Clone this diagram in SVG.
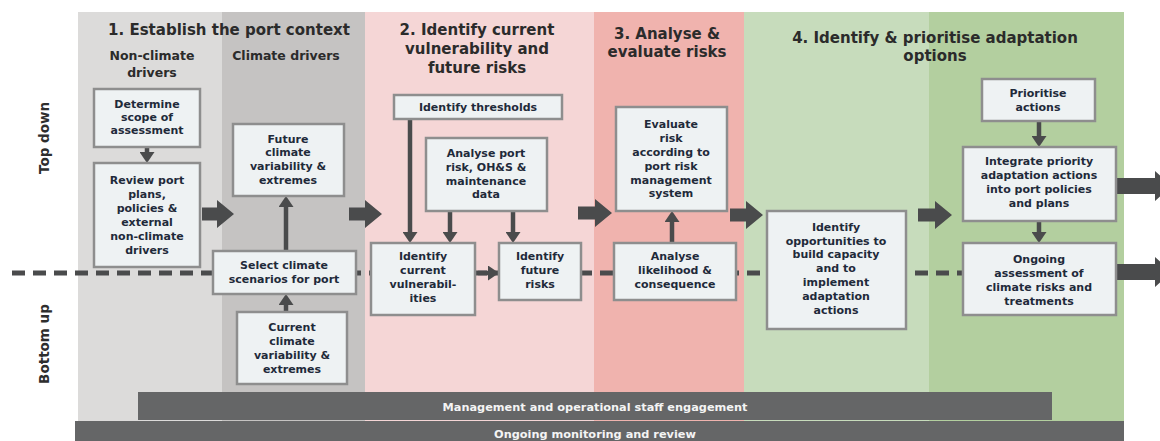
<svg xmlns="http://www.w3.org/2000/svg" width="1160" height="441" viewBox="0 0 1160 441">
<style>
.bx{fill:#eef2f3;stroke:#8e8e8e;stroke-width:2.5}
.t{font-family:"DejaVu Sans",Verdana,sans-serif;font-weight:bold;font-size:11px;fill:#1f2a3a;text-anchor:middle}
.h{font-family:"DejaVu Sans",Verdana,sans-serif;font-weight:bold;font-size:15px;fill:#2b2b2b;text-anchor:middle}
.s{font-family:"DejaVu Sans",Verdana,sans-serif;font-weight:bold;font-size:12.5px;fill:#2b2b2b;text-anchor:middle}
.side{font-family:"DejaVu Sans",Verdana,sans-serif;font-weight:bold;font-size:13.5px;fill:#2e2e2e;text-anchor:middle}
.bar{fill:#656667}
.bt{font-family:"DejaVu Sans",Verdana,sans-serif;font-weight:bold;font-size:11.3px;fill:#f4f4f4;text-anchor:middle}
.ln{stroke:#4a4b4c;stroke-width:4.5;fill:none}
.ba{fill:#4a4b4c}
</style>
<defs>
<marker id="ah" markerUnits="userSpaceOnUse" markerWidth="11" markerHeight="15" viewBox="0 0 11 15" refX="0" refY="7.5" orient="auto" preserveAspectRatio="none">
<path d="M0,0 L11,7.5 L0,15 z" fill="#4a4b4c"/>
</marker>
</defs>
<rect width="1160" height="441" fill="#ffffff"/>
<g id="backgrounds">
<rect x="78" y="12" width="144" height="429" fill="#dcdbda"/>
<rect x="222" y="12" width="143" height="429" fill="#c5c3c2"/>
<rect x="365" y="12" width="229" height="429" fill="#f5d6d6"/>
<rect x="594" y="12" width="150" height="429" fill="#f0b3ae"/>
<rect x="744" y="12" width="185" height="429" fill="#c7dcbc"/>
<rect x="929" y="12" width="195" height="429" fill="#b3cf9f"/>
</g>
<g id="headings">
<text class="h" x="229" y="35">1. Establish the port context</text>
<text class="s" x="152" y="60">Non-climate</text>
<text class="s" x="152" y="77">drivers</text>
<text class="s" x="286" y="60">Climate drivers</text>
<text class="h" x="477" y="35">2. Identify current</text>
<text class="h" x="477" y="54">vulnerability and</text>
<text class="h" x="477" y="73">future risks</text>
<text class="h" x="667" y="39">3. Analyse &amp;</text>
<text class="h" x="667" y="57">evaluate risks</text>
<text class="h" x="935" y="43">4. Identify &amp; prioritise adaptation</text>
<text class="h" x="935" y="61">options</text>
<text class="side" transform="translate(49,138) rotate(-90)">Top down</text>
<text class="side" transform="translate(49,344) rotate(-90)">Bottom up</text>
</g>
<g id="connectors">
<line x1="12" y1="273" x2="963" y2="273" stroke="#4a4b4c" stroke-width="5" stroke-dasharray="13 8"/>
<line class="ln" x1="147" y1="147" x2="147" y2="152" marker-end="url(#ah)"/>
<line class="ln" x1="286" y1="251" x2="286" y2="207" marker-end="url(#ah)"/>
<line class="ln" x1="286" y1="312" x2="286" y2="305" marker-end="url(#ah)"/>
<line class="ln" x1="410" y1="119" x2="410" y2="232" marker-end="url(#ah)"/>
<line class="ln" x1="450" y1="211" x2="450" y2="232" marker-end="url(#ah)"/>
<line class="ln" x1="513" y1="211" x2="513" y2="232" marker-end="url(#ah)"/>
<line class="ln" x1="478" y1="273" x2="488" y2="273" marker-end="url(#ah)"/>
<line class="ln" x1="672" y1="243" x2="672" y2="222" marker-end="url(#ah)"/>
<line class="ln" x1="1039" y1="121" x2="1039" y2="136" marker-end="url(#ah)"/>
<line class="ln" x1="1039" y1="221" x2="1039" y2="232" marker-end="url(#ah)"/>
<polygon class="ba" points="202,207.5 217,207.5 217,200 234,214 217,228 217,220.5 202,220.5"/>
<polygon class="ba" points="349,207.5 365,207.5 365,200 382,214 365,228 365,220.5 349,220.5"/>
<polygon class="ba" points="578,206.5 595,206.5 595,199 612,213 595,227 595,219.5 578,219.5"/>
<polygon class="ba" points="730,208.5 746,208.5 746,201 763,215 746,229 746,221.5 730,221.5"/>
<polygon class="ba" points="918,208.5 935,208.5 935,201 952,215 935,229 935,221.5 918,221.5"/>
<polygon class="ba" points="1117,178 1155,178 1155,171 1172,186 1155,201 1155,194 1117,194"/>
<polygon class="ba" points="1117,264 1155,264 1155,257 1172,272 1155,287 1155,280 1117,280"/>
</g>
<g id="n-determine">
<rect class="bx" x="94" y="89" width="106" height="58"/>
<text class="t" x="147" y="108">Determine</text>
<text class="t" x="147" y="121">scope of</text>
<text class="t" x="147" y="134">assessment</text>
</g>
<g id="n-review">
<rect class="bx" x="94" y="163" width="106" height="104"/>
<text class="t" x="147" y="184">Review port</text>
<text class="t" x="147" y="198">plans,</text>
<text class="t" x="147" y="212">policies &amp;</text>
<text class="t" x="147" y="226">external</text>
<text class="t" x="147" y="240">non-climate</text>
<text class="t" x="147" y="254">drivers</text>
</g>
<g id="n-future-climate">
<rect class="bx" x="233" y="124" width="111" height="72"/>
<text class="t" x="288" y="143">Future</text>
<text class="t" x="288" y="156">climate</text>
<text class="t" x="288" y="170">variability &amp;</text>
<text class="t" x="288" y="184">extremes</text>
</g>
<g id="n-select">
<rect class="bx" x="213" y="251" width="143" height="43"/>
<text class="t" x="284" y="269">Select climate</text>
<text class="t" x="284" y="283">scenarios for port</text>
</g>
<g id="n-current-climate">
<rect class="bx" x="237" y="312" width="110" height="72"/>
<text class="t" x="292" y="331">Current</text>
<text class="t" x="292" y="345">climate</text>
<text class="t" x="292" y="359">variability &amp;</text>
<text class="t" x="292" y="373">extremes</text>
</g>
<g id="n-thresholds">
<rect class="bx" x="394" y="95" width="168" height="24"/>
<text class="t" x="478" y="111">Identify thresholds</text>
</g>
<g id="n-analyse-port">
<rect class="bx" x="426" y="138" width="121" height="73"/>
<text class="t" x="486" y="157">Analyse port</text>
<text class="t" x="486" y="171">risk, OH&amp;S &amp;</text>
<text class="t" x="486" y="185">maintenance</text>
<text class="t" x="486" y="198">data</text>
</g>
<g id="n-evaluate">
<rect class="bx" x="616" y="107" width="111" height="104"/>
<text class="t" x="671" y="128">Evaluate</text>
<text class="t" x="671" y="142">risk</text>
<text class="t" x="671" y="156">according to</text>
<text class="t" x="671" y="170">port risk</text>
<text class="t" x="671" y="184">management</text>
<text class="t" x="671" y="197">system</text>
</g>
<g id="n-current-vuln">
<rect class="bx" x="371" y="243" width="104" height="72"/>
<text class="t" x="423" y="260">Identify</text>
<text class="t" x="423" y="274">current</text>
<text class="t" x="423" y="288">vulnerabil-</text>
<text class="t" x="423" y="302">ities</text>
</g>
<g id="n-future-risks">
<rect class="bx" x="499" y="243" width="82" height="57"/>
<text class="t" x="540" y="260">Identify</text>
<text class="t" x="540" y="274">future</text>
<text class="t" x="540" y="288">risks</text>
</g>
<g id="n-likelihood">
<rect class="bx" x="614" y="243" width="122" height="57"/>
<text class="t" x="675" y="260">Analyse</text>
<text class="t" x="675" y="274">likelihood &amp;</text>
<text class="t" x="675" y="288">consequence</text>
</g>
<g id="n-opportunities">
<rect class="bx" x="767" y="211" width="139" height="118"/>
<text class="t" x="836" y="231">Identify</text>
<text class="t" x="836" y="245">opportunities to</text>
<text class="t" x="836" y="258">build capacity</text>
<text class="t" x="836" y="272">and to</text>
<text class="t" x="836" y="286">implement</text>
<text class="t" x="836" y="300">adaptation</text>
<text class="t" x="836" y="314">actions</text>
</g>
<g id="n-prioritise">
<rect class="bx" x="982" y="79" width="113" height="42"/>
<text class="t" x="1038" y="97">Prioritise</text>
<text class="t" x="1038" y="111">actions</text>
</g>
<g id="n-integrate">
<rect class="bx" x="963" y="147" width="153" height="74"/>
<text class="t" x="1039" y="165">Integrate priority</text>
<text class="t" x="1039" y="179">adaptation actions</text>
<text class="t" x="1039" y="193">into port policies</text>
<text class="t" x="1039" y="207">and plans</text>
</g>
<g id="n-ongoing">
<rect class="bx" x="963" y="243" width="153" height="72"/>
<text class="t" x="1039" y="263">Ongoing</text>
<text class="t" x="1039" y="277">assessment of</text>
<text class="t" x="1039" y="291">climate risks and</text>
<text class="t" x="1039" y="305">treatments</text>
</g>
<g id="n-engagement">
<rect class="bar" x="138" y="392" width="914" height="28"/>
<text class="bt" x="595" y="411">Management and operational staff engagement</text>
</g>
<g id="n-monitoring">
<rect class="bar" x="75" y="421" width="1049" height="20"/>
<text class="bt" x="595" y="438">Ongoing monitoring and review</text>
</g>
</svg>
